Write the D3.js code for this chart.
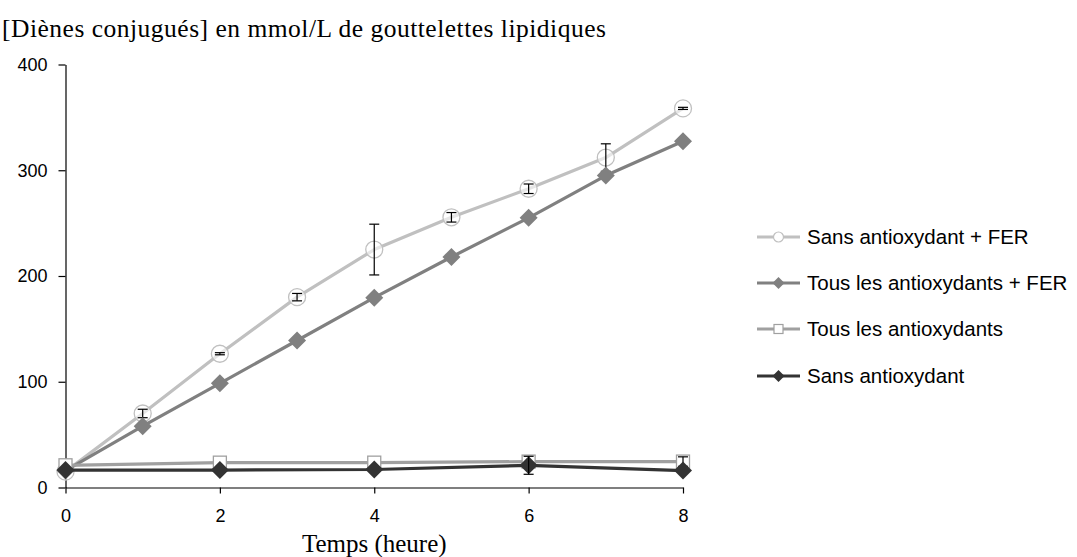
<!DOCTYPE html>
<html>
<head>
<meta charset="utf-8">
<script src="https://cdn.jsdelivr.net/npm/d3@7"></script>
<style>
  html, body { margin: 0; padding: 0; background: #fff; }
  svg { display: block; }
</style>
</head>
<body>
<svg id="chart" width="1077" height="557"></svg>
<script>
// Conjugated dienes over time, four treatment series
const titleText = "[Diènes conjugués] en mmol/L de gouttelettes lipidiques";
const xTitle = "Temps (heure)";
const yTicks = [0, 100, 200, 300, 400];
const xTicks = [0, 2, 4, 6, 8];

const timesHourly = [0, 1, 2, 3, 4, 5, 6, 7, 8];
const timesEven = [0, 2, 4, 6, 8];

const sansFerValues = [15, 70, 126.5, 180, 225, 255.5, 282.5, 312, 358.5];
const sansFerErrors = [0, 4, 1, 3.5, 24, 4.5, 4.5, 13, 1];

const tousFerValues = [16, 58, 98.5, 139, 179.5, 218, 255, 295, 327.5];

const tousValues = [21, 23.5, 23.5, 24.5, 24.5];
const tousErrors = [0, 0, 0, 0, 4.5];

const sansValues = [16.5, 16.5, 17, 21, 16];
const sansErrors = [0, 0, 0, 8.5, 0];

const seriesNames = [
  "Sans antioxydant + FER",
  "Tous les antioxydants + FER",
  "Tous les antioxydants",
  "Sans antioxydant"
];

const series = [
  { name: seriesNames[0], t: timesHourly, v: sansFerValues, e: sansFerErrors, color: "#c0c0c0", marker: "circle" },
  { name: seriesNames[1], t: timesHourly, v: tousFerValues, e: null, color: "#808080", marker: "diamond" },
  { name: seriesNames[2], t: timesEven, v: tousValues, e: tousErrors, color: "#a0a0a0", marker: "square" },
  { name: seriesNames[3], t: timesEven, v: sansValues, e: sansErrors, color: "#333333", marker: "diamond" }
];

const svg = d3.select("#chart");
const x = d3.scaleLinear().domain([0, 8]).range([65.5, 683]);
const y = d3.scaleLinear().domain([0, 400]).range([487.5, 64.5]);

// axes
const xAxis = d3.axisBottom(x).tickValues(xTicks).tickSizeInner(6).tickSizeOuter(0).tickPadding(16);
const yAxis = d3.axisLeft(y).tickValues(yTicks).tickSizeInner(7).tickSizeOuter(0).tickPadding(11);

const gx = svg.append("g").attr("transform", `translate(0,${y(0)})`).call(xAxis);
const gy = svg.append("g").attr("transform", `translate(${x(0)},0)`).call(yAxis);
[gx, gy].forEach(g => {
  g.select(".domain").attr("stroke", "#000").attr("stroke-width", 1.2);
  g.selectAll(".tick line").attr("stroke", "#000").attr("stroke-width", 1.2);
  g.selectAll(".tick text")
    .attr("fill", "#000")
    .style("font-family", "'Liberation Sans', Arial, sans-serif")
    .style("font-size", "18px");
});

// titles
svg.append("text")
  .attr("x", 2).attr("y", 37)
  .style("font-family", "'Liberation Serif', 'Times New Roman', serif")
  .style("font-size", "25.5px")
  .style("letter-spacing", "0.5px")
  .text(titleText);

svg.append("text")
  .attr("x", x(4)).attr("y", 552)
  .attr("text-anchor", "middle")
  .style("font-family", "'Liberation Serif', 'Times New Roman', serif")
  .style("font-size", "25px")
  .text(xTitle);

// marker drawing
function drawMarker(g, kind, color) {
  if (kind === "circle") {
    g.append("circle").attr("r", 8.5).attr("fill", "#fff").attr("fill-opacity", 0.6)
      .attr("stroke", color).attr("stroke-width", 1.3);
  } else if (kind === "square") {
    g.append("rect").attr("x", -6.5).attr("y", -6.5).attr("width", 13).attr("height", 13)
      .attr("fill", "#fff").attr("stroke", color).attr("stroke-width", 1.3);
  } else {
    g.append("path").attr("d", "M0,-9L9,0L0,9L-9,0Z").attr("fill", color);
  }
}

const line = d3.line().x(d => x(d[0])).y(d => y(d[1]));

series.forEach(s => {
  const g = svg.append("g");
  const pts = s.t.map((t, i) => [t, s.v[i]]);
  g.append("path").datum(pts).attr("d", line)
    .attr("fill", "none").attr("stroke", s.color).attr("stroke-width", 3.2)
    .attr("stroke-linejoin", "round");
  pts.forEach(p => {
    const m = g.append("g").attr("transform", `translate(${x(p[0])},${y(p[1])})`);
    drawMarker(m, s.marker, s.color);
  });
  if (s.e) {
    const eb = g.append("g").attr("stroke", "#000").attr("stroke-width", 1.2);
    pts.forEach((p, i) => {
      const err = s.e[i];
      if (!err) return;
      const cx = x(p[0]);
      const y1 = y(p[1] + err), y2 = y(p[1] - err);
      eb.append("line").attr("x1", cx).attr("x2", cx).attr("y1", y1).attr("y2", y2);
      eb.append("line").attr("x1", cx - 5).attr("x2", cx + 5).attr("y1", y1).attr("y2", y1);
      eb.append("line").attr("x1", cx - 5).attr("x2", cx + 5).attr("y1", y2).attr("y2", y2);
    });
  }
});

// legend
const legendY = [237, 283, 329, 376];
series.forEach((s, i) => {
  const g = svg.append("g").attr("transform", `translate(757,${legendY[i]})`);
  g.append("line").attr("x1", 0).attr("x2", 43).attr("y1", 0).attr("y2", 0)
    .attr("stroke", s.color).attr("stroke-width", 3.2);
  const m = g.append("g").attr("transform", "translate(21.5,0)");
  if (s.marker === "circle") {
    m.append("circle").attr("r", 5).attr("fill", "#fff").attr("stroke", s.color).attr("stroke-width", 1.2);
  } else if (s.marker === "square") {
    m.append("rect").attr("x", -4.5).attr("y", -4.5).attr("width", 9).attr("height", 9)
      .attr("fill", "#fff").attr("stroke", s.color).attr("stroke-width", 1.2);
  } else {
    m.append("path").attr("d", "M0,-6L6,0L0,6L-6,0Z").attr("fill", s.color);
  }
  g.append("text").attr("x", 50).attr("y", 0).attr("dy", "0.35em")
    .style("font-family", "'Liberation Sans', Arial, sans-serif")
    .style("font-size", "20.5px")
    .text(s.name);
});
</script>
</body>
</html>
